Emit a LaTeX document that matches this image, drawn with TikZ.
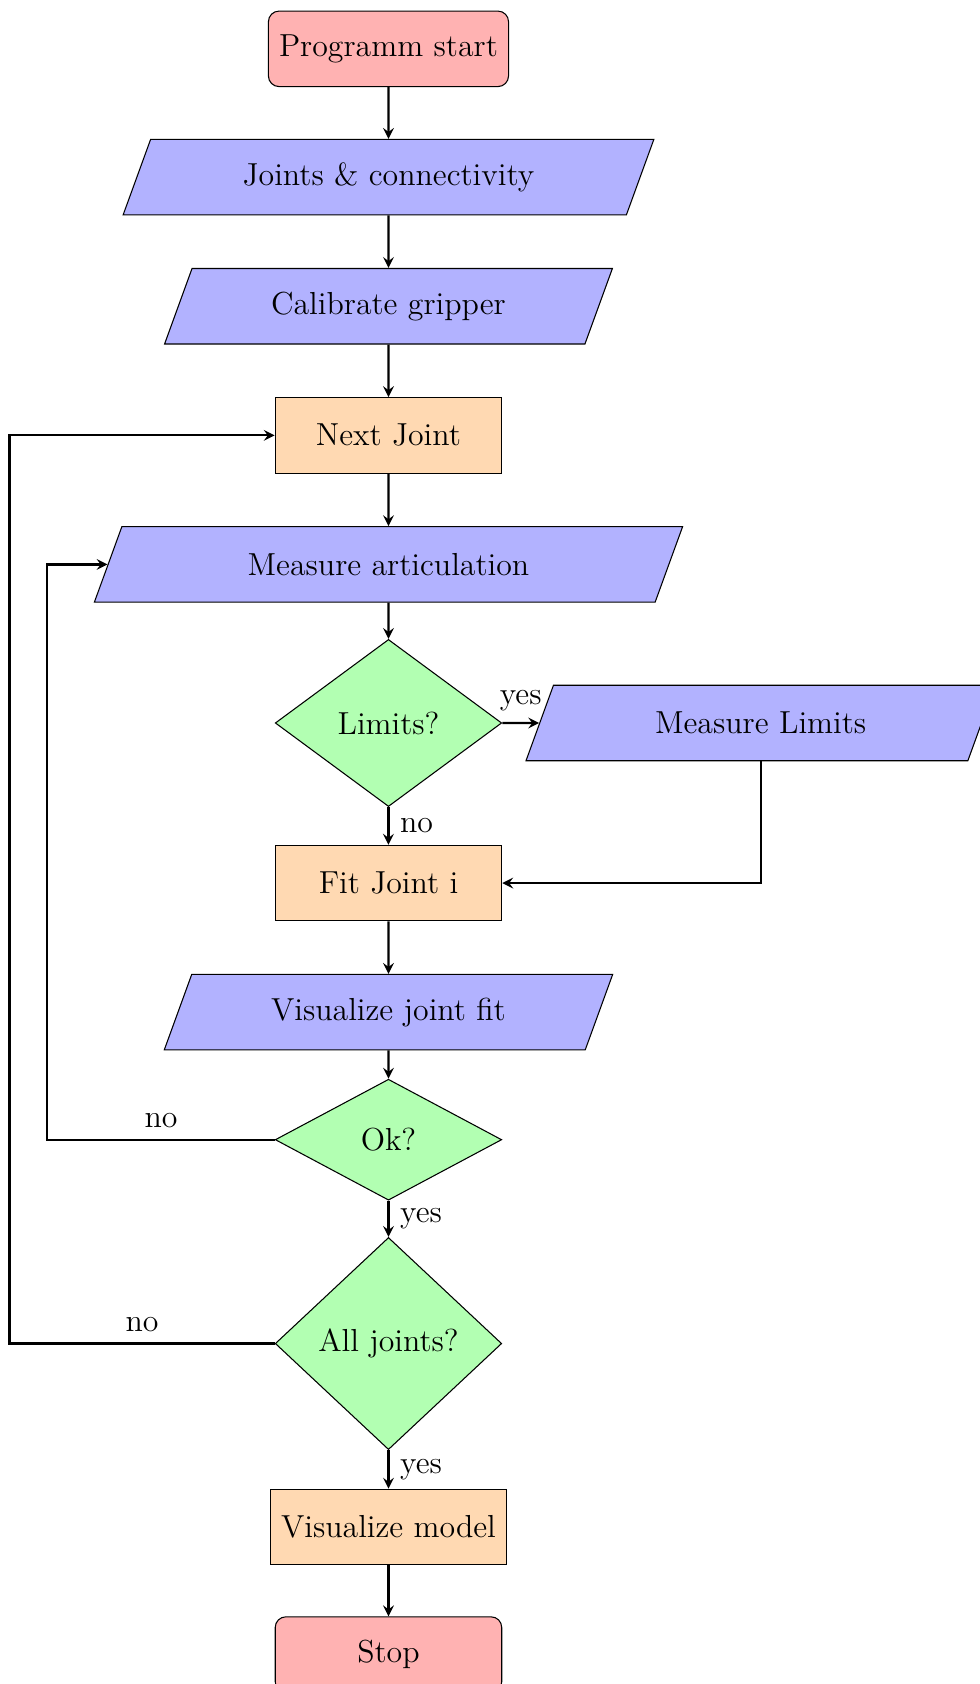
\documentclass[12pt,tikz,border=0pt]{standalone}
\usetikzlibrary{shapes.geometric,arrows}

\begin{document}
\begin{tikzpicture}[>=stealth,
	startstop/.style={rectangle, rounded corners, minimum width=3cm, minimum height=1cm, text centered, draw=black, fill=red!30},
	io/.style={trapezium, trapezium left angle=70, trapezium right angle=110, minimum width=3cm, minimum height=1cm, inner xsep=5pt, text centered, draw=black, fill=blue!30},
	process/.style={rectangle, minimum width=3cm, minimum height=1cm, text centered, draw=black, fill=orange!30},
	decision/.style={diamond, minimum width=3cm, minimum height=1cm, text centered, draw=black, fill=green!30},
	arrow/.style={thick,->}]
	\def\xl{-5.02} \def\xm{-4.52} \def\xr{4.93} % Spalten
	\useasboundingbox (-5.146,0.647) rectangle (7.834,-21.66);
	\node (start) [startstop] at (0,0) {Programm start};
	\node (in1) [io] at (0,-1.70) {Joints \& connectivity};
	\node (in2) [io] at (0,-3.41) {Calibrate gripper};
	\node (next) [process] at (0,-5.12) {Next Joint};
	\node (meas) [io] at (0,-6.83) {Measure articulation};
	\node (lim) [decision] at (0,-8.93) {Limits?};
	\node (measlim) [io] at (\xr,-8.93) {Measure Limits};
	\node (fit) [process] at (0,-11.05) {Fit Joint i};
	\node (vis) [io] at (0,-12.76) {Visualize joint fit};
	\node (ok) [decision] at (0,-14.45) {Ok?};
	\node (all) [decision] at (0,-17.15) {All joints?};
	\node (vmod) [process] at (0,-19.58) {Visualize model};
	\node (stop) [startstop] at (0,-21.27) {Stop};
	%	Pfeile
	\draw [arrow] (start) -- (in1);
	\draw [arrow] (in1) -- (in2);
	\draw [arrow] (in2) -- (next);
	\draw [arrow] (next) -- (meas);
	\draw [arrow] (meas) -- (lim);
	\draw [arrow] (lim) -- node[anchor=south] {yes} (measlim);
	\draw [arrow] (lim) -- node[anchor=west] {no} (fit);
	\draw [arrow] (measlim) |- (fit);
	\draw [arrow] (fit) -- (vis);
	\draw [arrow] (vis) -- (ok);
	\draw [arrow] (ok) -- node[anchor=west] {yes} (all);
	\draw [arrow] (ok.west) -- node[anchor=south] {no} (\xm,-14.45) |- (meas.west);
	\draw [arrow] (all) -- node[anchor=west] {yes} (vmod);
	\draw [arrow] (all.west) -- node[anchor=south] {no} (\xl,-17.15) |- (next.west);
	\draw [arrow] (vmod) -- (stop);
\end{tikzpicture}
\end{document}
